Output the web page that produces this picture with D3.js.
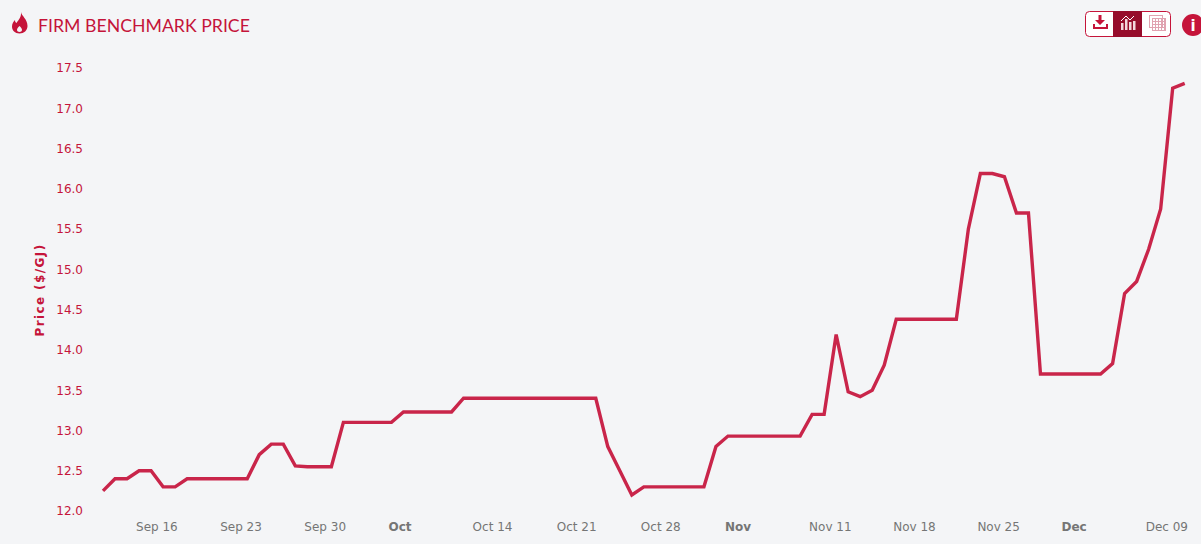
<!DOCTYPE html>
<html>
<head>
<meta charset="utf-8">
<script src="https://cdn.jsdelivr.net/npm/d3@7"></script>
<style>
  html, body { margin: 0; padding: 0; background: #f4f5f7; overflow: hidden; }
  #chart { width: 1201px; height: 544px; }
</style>
</head>
<body>
<div id="chart"></div>
<script>
const titleText = "FIRM BENCHMARK PRICE";
const yLabel = "Price ($/GJ)";
const firstDay = new Date(2024, 8, 13);

// one value per day starting from firstDay
const prices = [
  12.25, 12.4, 12.4, 12.5, 12.5, 12.3, 12.3, 12.4, 12.4, 12.4, 12.4, 12.4, 12.4,
  12.7, 12.83, 12.83, 12.56, 12.55, 12.55, 12.55, 13.1, 13.1, 13.1, 13.1, 13.1,
  13.23, 13.23, 13.23, 13.23, 13.23, 13.4, 13.4, 13.4, 13.4, 13.4, 13.4, 13.4,
  13.4, 13.4, 13.4, 13.4, 13.4, 12.8, 12.5, 12.2, 12.3, 12.3, 12.3, 12.3, 12.3,
  12.3, 12.8, 12.93, 12.93, 12.93, 12.93, 12.93, 12.93, 12.93, 13.2, 13.2, 14.19,
  13.48, 13.42, 13.5, 13.81, 14.38, 14.38, 14.38, 14.38, 14.38, 14.38, 15.5, 16.19,
  16.19, 16.15, 15.7, 15.7, 13.7, 13.7, 13.7, 13.7, 13.7, 13.7, 13.83, 14.7, 14.85,
  15.25, 15.75, 17.25, 17.31
];

const yTicks = [12, 12.5, 13, 13.5, 14, 14.5, 15, 15.5, 16, 16.5, 17, 17.5];
const xTicks = [
  [new Date(2024, 8, 16), "Sep 16"], [new Date(2024, 8, 23), "Sep 23"],
  [new Date(2024, 8, 30), "Sep 30"], [new Date(2024, 9, 7), "Oct"],
  [new Date(2024, 9, 14), "Oct 14"], [new Date(2024, 9, 21), "Oct 21"],
  [new Date(2024, 9, 28), "Oct 28"], [new Date(2024, 10, 4), "Nov"],
  [new Date(2024, 10, 11), "Nov 11"], [new Date(2024, 10, 18), "Nov 18"],
  [new Date(2024, 10, 25), "Nov 25"], [new Date(2024, 11, 2), "Dec"],
  [new Date(2024, 11, 9), "Dec 09"]
];
const monthLabels = ["Oct", "Nov", "Dec"];

const red = "#c5143a";
const lineRed = "#c9254a";
const darkRed = "#960c2b";
const grey = "#757575";
const axisFont = "'DejaVu Sans', Verdana, sans-serif";

const svg = d3.select("#chart").append("svg")
  .attr("width", 1201)
  .attr("height", 544);

const data = prices.map((p, i) => ({ date: d3.timeDay.offset(firstDay, i), price: p }));

const x = d3.scaleTime()
  .domain(d3.extent(data, d => d.date))
  .range([103, 1184.7]);
const y = d3.scaleLinear()
  .domain([12, 17.5])
  .range([511, 68]);

// Y axis
const yAxis = svg.append("g")
  .attr("transform", "translate(83,0)")
  .call(d3.axisLeft(y).tickValues(yTicks).tickSize(0).tickPadding(0).tickFormat(d3.format(".1f")));
yAxis.select(".domain").remove();
yAxis.selectAll("text")
  .attr("fill", red)
  .style("font-family", axisFont)
  .style("font-size", "12px");

svg.append("text")
  .attr("transform", "translate(44,290) rotate(-90)")
  .attr("text-anchor", "middle")
  .attr("fill", red)
  .style("font-family", axisFont)
  .style("font-size", "12px")
  .style("font-weight", "bold")
  .style("letter-spacing", "1.4px")
  .text(yLabel);

// X axis, labels start a little before their day
const xAxis = svg.append("g")
  .attr("transform", "translate(0,522)")
  .call(d3.axisBottom(x)
    .tickValues(xTicks.map(t => t[0]))
    .tickSize(0)
    .tickPadding(0)
    .tickFormat((d, i) => xTicks[i][1]));
xAxis.select(".domain").remove();
xAxis.selectAll("text")
  .attr("text-anchor", "start")
  .attr("dx", -3.5)
  .attr("fill", grey)
  .style("font-family", axisFont)
  .style("font-size", "12px")
  .style("font-weight", d => monthLabels.includes(xTicks.find(t => +t[0] === +d)[1]) ? "bold" : "normal");

// Line
const line = d3.line()
  .x(d => x(d.date))
  .y(d => y(d.price));
svg.append("path")
  .datum(data)
  .attr("fill", "none")
  .attr("stroke", lineRed)
  .attr("stroke-width", 3.4)
  .attr("stroke-linejoin", "miter")
  .attr("d", line);

// Title and flame icon
svg.append("text")
  .attr("x", 38)
  .attr("y", 32)
  .attr("fill", red)
  .style("font-family", "Lato, sans-serif")
  .style("font-size", "17.7px")
  .text(titleText);

svg.append("path")
  .attr("fill", red)
  .attr("fill-rule", "evenodd")
  .attr("d", "M21 12 C21.5 16 27.5 19 27.5 26 C27.5 30.5 24 33.5 19.5 33.5 C15 33.5 12 30.5 12 26.5 C12 23.5 13.5 21.5 15 20 C15 21.5 15.5 22.5 16.5 23 C18.5 20 21.5 17 21 12 Z M19.5 26 C18 27.5 17 28.7 17 30 C17 31.3 18.2 32 19.5 32 C20.8 32 22 31.3 22 30 C22 28.7 21 27.5 19.5 26 Z");

// Toolbar
const bar = svg.append("g");
bar.append("rect")
  .attr("x", 1085.5).attr("y", 11.5)
  .attr("width", 85).attr("height", 25).attr("rx", 4)
  .attr("fill", "#fff").attr("stroke", red);
bar.append("rect")
  .attr("x", 1113).attr("y", 11)
  .attr("width", 29).attr("height", 26)
  .attr("fill", darkRed);

// download icon
bar.append("path").attr("fill", red)
  .attr("d", "M1098.5 15 h3 v5 h3.5 l-5 5 l-5 -5 h3.5 Z");
bar.append("path").attr("fill", "none").attr("stroke", red).attr("stroke-width", 2)
  .attr("d", "M1094 24 v4 h13 v-4");

// chart icon
bar.selectAll(".col")
  .data([[1121, 23, 7], [1125, 19, 11], [1129, 22, 8], [1133, 21, 9]])
  .enter().append("rect")
  .attr("x", d => d[0]).attr("y", d => d[1])
  .attr("width", 2.5).attr("height", d => d[2])
  .attr("fill", "#f3d6dc");
bar.append("path").attr("fill", "none").attr("stroke", "#fff").attr("stroke-width", 1)
  .attr("d", "M1121 21 L1126 16 L1130 20 L1134 16");

// table icon
const grid = bar.append("g").attr("stroke", "#e0a3b1").attr("stroke-width", 1).attr("fill", "none");
grid.append("rect").attr("x", 1149.5).attr("y", 15.5).attr("width", 13).attr("height", 12);
grid.append("rect").attr("x", 1152.5).attr("y", 18.5).attr("width", 13).attr("height", 12);
d3.range(1155.5, 1165, 3).forEach(v => {
  grid.append("line").attr("x1", v).attr("x2", v).attr("y1", 18.5).attr("y2", 30.5);
});
d3.range(21.5, 30, 3).forEach(v => {
  grid.append("line").attr("x1", 1152.5).attr("x2", 1165.5).attr("y1", v).attr("y2", v);
});

// info button
svg.append("circle").attr("cx", 1193).attr("cy", 25).attr("r", 11).attr("fill", red);
svg.append("text")
  .attr("x", 1193).attr("y", 31)
  .attr("text-anchor", "middle")
  .attr("fill", "#fff")
  .style("font-family", "'DejaVu Sans', sans-serif")
  .style("font-size", "15px")
  .style("font-weight", "bold")
  .text("i");
</script>
</body>
</html>
